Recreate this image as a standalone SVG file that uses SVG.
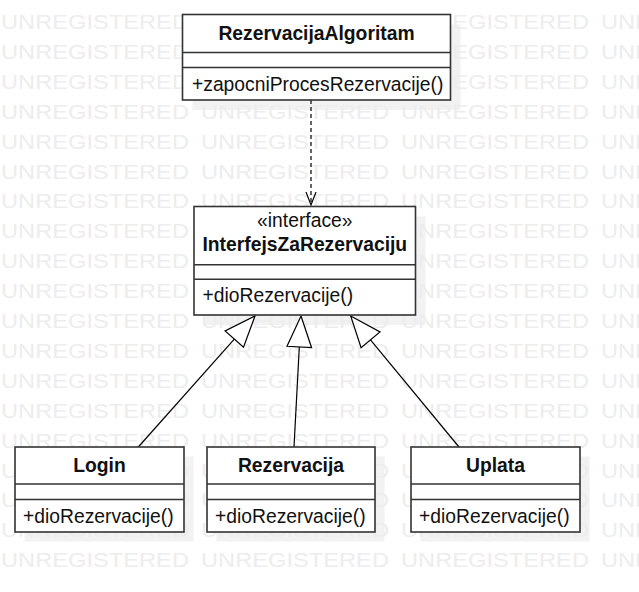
<svg xmlns="http://www.w3.org/2000/svg" xmlns:xlink="http://www.w3.org/1999/xlink" width="639" height="592" viewBox="0 0 639 592">
  <style>
    .wm { font-family: "Liberation Sans", Arial, sans-serif; font-size: 21px; fill: #ededed; }
    .shadow { fill: #f2f2f2; }
    .box { fill: #ffffff; stroke: #333333; stroke-width: 1.6; }
    .div { stroke: #333333; stroke-width: 1.6; }
    .t { font-family: "Liberation Sans", Arial, sans-serif; font-size: 19.3px; fill: #111111; }
    .b { font-weight: bold; text-anchor: middle; }
    .c { text-anchor: middle; }
    .ln { fill: none; stroke: #000000; stroke-width: 1.2; }
    .tri { fill: #ffffff; stroke: #000000; stroke-width: 1.2; }
  </style>
  <defs>
    <g id="wmrow">
      <text class="wm" x="1" y="0" textLength="188" lengthAdjust="spacingAndGlyphs">UNREGISTERED</text>
      <text class="wm" x="201" y="0" textLength="188" lengthAdjust="spacingAndGlyphs">UNREGISTERED</text>
      <text class="wm" x="401" y="0" textLength="188" lengthAdjust="spacingAndGlyphs">UNREGISTERED</text>
      <text class="wm" x="601" y="0" textLength="188" lengthAdjust="spacingAndGlyphs">UNREGISTERED</text>
    </g>
    <marker id="open" viewBox="0 0 14 12" refX="13" refY="6" markerWidth="14" markerHeight="12" markerUnits="userSpaceOnUse" orient="auto">
      <path d="M0,1 L13,6 L0,11" fill="none" stroke="#000" stroke-width="1.2"/>
    </marker>
  </defs>
  <rect width="639" height="592" fill="#ffffff"/>

  <!-- shadows -->
  <g id="shadows">
    <rect class="shadow" x="192.5" y="24.5" width="268" height="85.5"/>
    <rect class="shadow" x="204" y="216.5" width="221.5" height="108.5"/>
    <rect class="shadow" x="24.5" y="456.5" width="169" height="85"/>
    <rect class="shadow" x="216.5" y="456.5" width="168" height="85"/>
    <rect class="shadow" x="420.5" y="456.5" width="169" height="85"/>
  </g>

  <!-- watermark -->
  <g id="watermark">
    <use xlink:href="#wmrow" y="29"/>
    <use xlink:href="#wmrow" y="58.9"/>
    <use xlink:href="#wmrow" y="88.8"/>
    <use xlink:href="#wmrow" y="118.7"/>
    <use xlink:href="#wmrow" y="148.6"/>
    <use xlink:href="#wmrow" y="178.5"/>
    <use xlink:href="#wmrow" y="208.4"/>
    <use xlink:href="#wmrow" y="238.3"/>
    <use xlink:href="#wmrow" y="268.2"/>
    <use xlink:href="#wmrow" y="298.1"/>
    <use xlink:href="#wmrow" y="328"/>
    <use xlink:href="#wmrow" y="357.9"/>
    <use xlink:href="#wmrow" y="387.8"/>
    <use xlink:href="#wmrow" y="417.7"/>
    <use xlink:href="#wmrow" y="447.6"/>
    <use xlink:href="#wmrow" y="477.5"/>
    <use xlink:href="#wmrow" y="507.4"/>
    <use xlink:href="#wmrow" y="537.3"/>
    <use xlink:href="#wmrow" y="567.2"/>
  </g>

  <!-- connectors -->
  <g id="connectors">
    <line class="ln" x1="311" y1="100" x2="311" y2="205" stroke-dasharray="4,3" marker-end="url(#open)"/>
    <line class="ln" x1="138.3" y1="447" x2="234.3" y2="339.1"/>
    <polygon class="tri" points="255,316 243.5,347.3 225.1,330.9"/>
    <line class="ln" x1="294" y1="447" x2="299.3" y2="347"/>
    <polygon class="tri" points="301,316 311.6,347.7 287,346.3"/>
    <line class="ln" x1="459" y1="447" x2="370.5" y2="339.8"/>
    <polygon class="tri" points="350.7,316 380,331.9 361.1,347.7"/>
  </g>

  <!-- nodes -->
  <g id="RezervacijaAlgoritam">
    <rect class="box" x="182.5" y="14.5" width="268" height="85.5"/>
    <line class="div" x1="182.5" y1="52.5" x2="450.5" y2="52.5"/>
    <line class="div" x1="182.5" y1="67.5" x2="450.5" y2="67.5"/>
    <text class="t b" x="316.5" y="39.5">RezervacijaAlgoritam</text>
    <text class="t" x="192" y="91">+zapocniProcesRezervacije()</text>
  </g>

  <g id="InterfejsZaRezervaciju">
    <rect class="box" x="194" y="206.5" width="221.5" height="108.5"/>
    <line class="div" x1="194" y1="264.7" x2="415.5" y2="264.7"/>
    <line class="div" x1="194" y1="279.3" x2="415.5" y2="279.3"/>
    <text class="t c" x="304.8" y="227">«interface»</text>
    <text class="t b" x="304.8" y="251">InterfejsZaRezervaciju</text>
    <text class="t" x="202.5" y="302">+dioRezervacije()</text>
  </g>

  <g id="Login">
    <rect class="box" x="15" y="447" width="169" height="85"/>
    <line class="div" x1="15" y1="484" x2="184" y2="484"/>
    <line class="div" x1="15" y1="499.5" x2="184" y2="499.5"/>
    <text class="t b" x="99.5" y="472.3">Login</text>
    <text class="t" x="23" y="523.3">+dioRezervacije()</text>
  </g>

  <g id="Rezervacija">
    <rect class="box" x="207" y="447" width="168" height="85"/>
    <line class="div" x1="207" y1="484" x2="375" y2="484"/>
    <line class="div" x1="207" y1="499.5" x2="375" y2="499.5"/>
    <text class="t b" x="291" y="472.3">Rezervacija</text>
    <text class="t" x="215" y="523.3">+dioRezervacije()</text>
  </g>

  <g id="Uplata">
    <rect class="box" x="411" y="447" width="169" height="85"/>
    <line class="div" x1="411" y1="484" x2="580" y2="484"/>
    <line class="div" x1="411" y1="499.5" x2="580" y2="499.5"/>
    <text class="t b" x="495.5" y="472.3">Uplata</text>
    <text class="t" x="419" y="523.3">+dioRezervacije()</text>
  </g>
</svg>
